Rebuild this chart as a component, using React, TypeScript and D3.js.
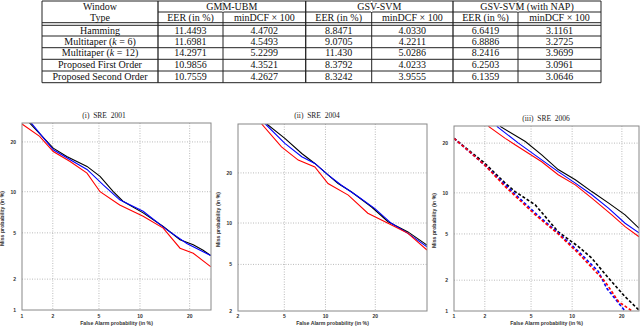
import React from "react";
import * as d3 from "d3";

// ---------------- table values ----------------
const windowTypes = [
  ["Hamming", ""],
  ["Multitaper (", "k", " = 6)"],
  ["Multitaper (", "k", " = 12)"],
  ["Proposed First Order", ""],
  ["Proposed Second Order", ""]
];
const systems = ["GMM-UBM", "GSV-SVM", "GSV-SVM (with NAP)"];
const gmmEer = ["11.4493", "11.6981", "14.2971", "10.9856", "10.7559"];
const gmmDcf = ["4.4702", "4.5493", "5.2299", "4.3521", "4.2627"];
const gsvEer = ["8.8471", "9.0705", "11.430", "8.3792", "8.3242"];
const gsvDcf = ["4.0330", "4.2211", "5.0286", "4.0233", "3.9555"];
const napEer = ["6.6419", "6.8886", "8.2416", "6.2503", "6.1359"];
const napDcf = ["3.1161", "3.2725", "3.9699", "3.0961", "3.0646"];

// ---------------- DET curves: [false alarm %, miss %] ----------------
const sre2001Black = [[1.15, 25.5], [2.02, 18.5], [2.68, 16.6], [4.0, 14.5], [5.1, 12.6], [6.45, 10.0], [7.6, 8.6], [10.5, 7.1], [14.1, 5.6], [17.7, 4.4], [20.9, 4.0], [23.5, 3.6], [25.6, 3.25]];
const sre2001Blue = [[1.2, 25.5], [2.02, 18.1], [2.68, 16.3], [4.0, 13.9], [5.4, 11.1], [7.2, 8.8], [10.5, 7.3], [14.8, 5.3], [19.3, 4.1], [25.6, 3.25]];
const sre2001Red = [[1.0, 24.7], [1.5, 21.4], [2.02, 17.7], [2.87, 15.5], [4.0, 13.2], [5.1, 10.0], [7.2, 8.1], [10.5, 6.7], [14.1, 5.45], [17.7, 3.75], [20.9, 3.4], [25.6, 2.6]];

const sre2004Black = [[3.6, 34], [5.05, 29.5], [6.8, 25.1], [8.45, 22.4], [10.4, 19.5], [12.1, 17.5], [14.6, 15.7], [19.1, 12.7], [23.3, 10.2], [29, 8.7], [35, 7.0]];
const sre2004Blue = [[3.5, 34], [5.05, 28], [6.8, 24.2], [8.45, 22.4], [10.4, 19.5], [12.7, 17.1], [16, 14.7], [19.9, 12.4], [24.2, 9.95], [29, 8.5], [35, 6.8]];
const sre2004Red = [[3.25, 34], [4.75, 27], [6.4, 23.3], [8.45, 21.5], [10.4, 17.5], [14, 15], [18.2, 11.6], [23.3, 9.95], [29, 8.5], [35, 6.45]];

const sre2006Black = [[2.75, 24.4], [4.5, 20.4], [6.05, 17.2], [8.0, 14.1], [10.5, 12.2], [13.4, 10.2], [16.9, 8.5], [20.8, 7.0], [24.5, 5.55]];
const sre2006Blue = [[2.57, 24.4], [3.95, 20], [6.05, 16.1], [8.0, 13.7], [10.5, 11.6], [13.4, 9.7], [16.9, 7.8], [20.8, 6.05], [24.5, 5.1]];
const sre2006Red = [[2.16, 24.4], [3.05, 21.2], [3.7, 19.6], [6.05, 15.7], [8.0, 13.1], [10.5, 11.3], [13.4, 9.2], [17.6, 7.0], [20.8, 5.7], [24.5, 4.75]];
const sre2006NapBlack = [[1.0, 21.2], [2.0, 15.4], [3.05, 11.6], [3.7, 10.2], [5.4, 8.25], [8.0, 5.2], [11.0, 3.95], [13.4, 3.15], [16.9, 2.08], [20.8, 1.39], [24.5, 1.02]];
const sre2006NapBlue = [[1.0, 21.2], [2.0, 15.0], [3.05, 11.3], [5.4, 7.2], [8.0, 5.1], [11.0, 3.6], [14.7, 2.4], [16.5, 1.67], [19.2, 1.2], [20.8, 1.0]];
const sre2006NapRed = [[1.0, 21.2], [2.0, 15.0], [3.05, 11.0], [5.4, 7.0], [8.0, 5.0], [11.0, 3.47], [16.1, 1.94], [19.2, 1.24], [22.6, 1.0]];

const ticks2001 = [1, 2, 5, 10, 20];
const ticks2004 = [2, 5, 10, 20];
const ticks2006 = [1, 2, 5, 10, 20];

// inverse normal CDF (Acklam), DET plots use normal deviate axes
function probit(p: number) {
  const a = [-39.69683028665376, 220.9460984245205, -275.9285104469687, 138.357751867269, -30.66479806614716, 2.506628277459239];
  const b = [-54.47609879822406, 161.5858368580409, -155.6989798598866, 66.80131188771972, -13.28068155288572];
  const c = [-0.007784894002430293, -0.3223964580411365, -2.400758277161838, -2.549732539343734, 4.374664141464968, 2.938163982698783];
  const d = [0.007784695709041462, 0.3224671290700398, 2.445134137142996, 3.754408661907416];
  const pl = 0.02425;
  if (p < pl) {
    const q = Math.sqrt(-2 * Math.log(p));
    return (((((c[0] * q + c[1]) * q + c[2]) * q + c[3]) * q + c[4]) * q + c[5]) / ((((d[0] * q + d[1]) * q + d[2]) * q + d[3]) * q + 1);
  }
  if (p <= 1 - pl) {
    const q = p - 0.5;
    const r = q * q;
    return ((((((a[0] * r + a[1]) * r + a[2]) * r + a[3]) * r + a[4]) * r + a[5]) * q) / (((((b[0] * r + b[1]) * r + b[2]) * r + b[3]) * r + b[4]) * r + 1);
  }
  const q = Math.sqrt(-2 * Math.log(1 - p));
  return -(((((c[0] * q + c[1]) * q + c[2]) * q + c[3]) * q + c[4]) * q + c[5]) / ((((d[0] * q + d[1]) * q + d[2]) * q + d[3]) * q + 1);
}

const sans = "'Liberation Sans', Arial, sans-serif";
const serif = "'Liberation Serif', 'Times New Roman', serif";

function DetPlot(props: any) {
  const { id, box, xDomain, yDomain, xTicks, yTicks, title, titleX, titleY, series } = props;
  const x = d3.scaleLinear().domain(xDomain.map((v: number) => probit(v / 100))).range([box.left, box.right]);
  const y = d3.scaleLinear().domain(yDomain.map((v: number) => probit(v / 100))).range([box.bottom, box.top]);
  const line = d3
    .line<number[]>()
    .x(d => x(probit(d[0] / 100)))
    .y(d => y(probit(d[1] / 100)));
  const inX = (t: number) => t > xDomain[0] && t < xDomain[1];
  const inY = (t: number) => t > yDomain[0] && t < yDomain[1];
  const cx = (box.left + box.right) / 2;
  const cy = (box.top + box.bottom) / 2;
  return (
    <g>
      <defs>
        <clipPath id={id}>
          <rect x={box.left} y={box.top} width={box.right - box.left} height={box.bottom - box.top} />
        </clipPath>
      </defs>
      <rect x={box.left} y={box.top} width={box.right - box.left} height={box.bottom - box.top} fill="#fff" />
      {xTicks.filter(inX).map((t: number) => (
        <line key={"gx" + t} x1={x(probit(t / 100))} x2={x(probit(t / 100))} y1={box.top} y2={box.bottom} stroke="#aaa" strokeWidth={0.8} strokeDasharray="1,1.5" />
      ))}
      {yTicks.filter(inY).map((t: number) => (
        <line key={"gy" + t} x1={box.left} x2={box.right} y1={y(probit(t / 100))} y2={y(probit(t / 100))} stroke="#aaa" strokeWidth={0.8} strokeDasharray="1,1.5" />
      ))}
      <g clipPath={`url(#${id})`}>
        {series.map((s: any, i: number) => (
          <path key={i} d={line(s.data) || ""} fill="none" stroke={s.color} strokeWidth={s.dashed ? 1.6 : 1.1} strokeDasharray={s.dashed ? "3,2" : undefined} />
        ))}
      </g>
      <rect x={box.left} y={box.top} width={box.right - box.left} height={box.bottom - box.top} fill="none" stroke="#888" strokeWidth={1} />
      {xTicks.map((t: number) => (
        <text key={"tx" + t} x={x(probit(t / 100))} y={318} textAnchor="middle" fontFamily={sans} fontWeight="bold" fontSize={5} fill="#333">
          {t}
        </text>
      ))}
      {yTicks.map((t: number) => (
        <text key={"ty" + t} x={box.left - 6} y={y(probit(t / 100)) + 1.8} textAnchor="end" fontFamily={sans} fontWeight="bold" fontSize={5} fill="#333">
          {t}
        </text>
      ))}
      <text x={titleX} y={titleY} textAnchor="middle" fontFamily={serif} fontSize={7.5} fill="#222" style={{ whiteSpace: "pre" }}>
        {title}
      </text>
      <text x={cx} y={325} textAnchor="middle" fontFamily={sans} fontWeight="bold" fontSize={5.2} fill="#333">
        False Alarm probability (in %)
      </text>
      <text transform={`translate(${box.left - 18},${cy + 2}) rotate(-90)`} textAnchor="middle" fontFamily={sans} fontWeight="bold" fontSize={5.2} fill="#333">
        Miss probability (in %)
      </text>
    </g>
  );
}

// table layout
const colEdges = [42, 158, 223, 305.7, 371.7, 453, 518, 601];
const rowTops = [25.3, 36, 47.7, 59.3, 71, 82.7];

export default function App() {
  const cols = [gmmEer, gmmDcf, gsvEer, gsvDcf, napEer, napDcf];
  const mid = (i: number) => (colEdges[i] + colEdges[i + 1]) / 2;
  return (
    <div style={{ position: "fixed", left: 0, top: 0 }}>
      <svg width={640} height={326} style={{ display: "block", background: "#fff" }}>
        <g fontFamily={serif} fontSize={10} fill="#111" stroke="none">
          {/* borders */}
          <line x1={colEdges[0]} x2={colEdges[7]} y1={1} y2={1} stroke="#222" />
          <line x1={colEdges[1]} x2={colEdges[7]} y1={12} y2={12} stroke="#222" />
          <line x1={colEdges[0]} x2={colEdges[7]} y1={22.7} y2={22.7} stroke="#222" />
          {rowTops.map((r, i) => (
            <line key={"r" + i} x1={colEdges[0]} x2={colEdges[7]} y1={r} y2={r} stroke="#222" />
          ))}
          {colEdges.map((c, i) => (
            <line key={"c" + i} x1={c} x2={c} y1={1} y2={82.7} stroke="#222" strokeWidth={i === 1 || i === 3 || i === 5 ? 1.3 : 1} />
          ))}
          <line x1={colEdges[2]} x2={colEdges[2]} y1={1} y2={12} stroke="#fff" strokeWidth={1.4} />
          <line x1={colEdges[4]} x2={colEdges[4]} y1={1} y2={12} stroke="#fff" strokeWidth={1.4} />
          <line x1={colEdges[6]} x2={colEdges[6]} y1={1} y2={12} stroke="#fff" strokeWidth={1.4} />
          <text x={mid(0)} y={9.5} textAnchor="middle">Window</text>
          <text x={mid(0)} y={20.5} textAnchor="middle">Type</text>
          {systems.map((s, i) => (
            <text key={s} x={(colEdges[1 + 2 * i] + colEdges[3 + 2 * i]) / 2} y={9.5} textAnchor="middle">
              {s}
            </text>
          ))}
          {systems.map((s, i) => (
            <g key={"h" + s}>
              <text x={mid(1 + 2 * i)} y={20.5} textAnchor="middle">EER (in %)</text>
              <text x={mid(2 + 2 * i)} y={20.5} textAnchor="middle">minDCF × 100</text>
            </g>
          ))}
          {windowTypes.map((w, r) => (
            <text key={"w" + r} x={mid(0)} y={rowTops[r] + 8.7} textAnchor="middle">
              {w[0]}
              {w.length > 2 ? <tspan fontStyle="italic">{w[1]}</tspan> : null}
              {w.length > 2 ? w[2] : null}
            </text>
          ))}
          {cols.map((col, ci) =>
            col.map((v, r) => (
              <text key={ci + "-" + r} x={mid(ci + 1)} y={rowTops[r] + 8.7} textAnchor="middle">
                {v}
              </text>
            ))
          )}
        </g>

        <DetPlot
          id="c2001"
          box={{ left: 22, right: 211, top: 123, bottom: 310 }}
          xDomain={[1, 25.7]}
          yDomain={[1, 25]}
          xTicks={ticks2001}
          yTicks={ticks2001}
          title={"(i)  SRE  2001"}
          titleX={104}
          titleY={118}
          series={[
            { data: sre2001Black, color: "#000" },
            { data: sre2001Blue, color: "#00f" },
            { data: sre2001Red, color: "#f00" }
          ]}
        />
        <DetPlot
          id="c2004"
          box={{ left: 238, right: 427, top: 124, bottom: 311 }}
          xDomain={[2, 35]}
          yDomain={[2, 34]}
          xTicks={ticks2004}
          yTicks={ticks2004}
          title={"(ii)  SRE  2004"}
          titleX={317}
          titleY={117.5}
          series={[
            { data: sre2004Black, color: "#000" },
            { data: sre2004Blue, color: "#00f" },
            { data: sre2004Red, color: "#f00" }
          ]}
        />
        <DetPlot
          id="c2006"
          box={{ left: 454, right: 639, top: 126, bottom: 311 }}
          xDomain={[1, 24.5]}
          yDomain={[1, 24.5]}
          xTicks={ticks2006}
          yTicks={ticks2006}
          title={"(iii)  SRE  2006"}
          titleX={546}
          titleY={121}
          series={[
            { data: sre2006Black, color: "#000" },
            { data: sre2006Blue, color: "#00f" },
            { data: sre2006Red, color: "#f00" },
            { data: sre2006NapBlack, color: "#000", dashed: true },
            { data: sre2006NapBlue, color: "#00f", dashed: true },
            { data: sre2006NapRed, color: "#f00", dashed: true }
          ]}
        />
      </svg>
    </div>
  );
}
